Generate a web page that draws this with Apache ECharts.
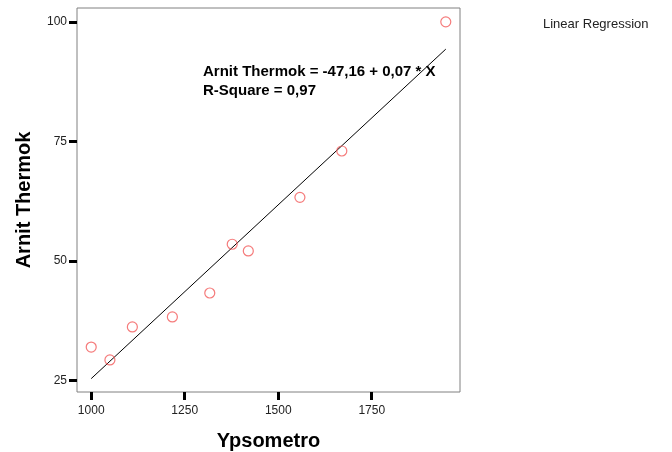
<!DOCTYPE html>
<html><head><meta charset="utf-8">
<script src="https://cdn.jsdelivr.net/npm/echarts@6/dist/echarts.min.js"></script>
<style>html,body{margin:0;padding:0;background:#fff}#c{width:672px;height:452px}</style>
</head><body><div id="c"></div>
<script>
// Observed data
const ypsometro = [1000, 1050, 1110, 1217, 1317, 1377, 1420, 1558, 1670, 1948];
const arnitThermok = [32.0, 29.3, 36.2, 38.3, 43.3, 53.5, 52.1, 63.3, 73.0, 100.0];
// Fitted line endpoints
const fitX = [1000, 1948];
const fitY = [25.4, 94.3];
const xTicks = [1000, 1250, 1500, 1750];
const yTicks = [25, 50, 75, 100];
const equationText = ['Arnit Thermok = -47,16 + 0,07 * X', 'R-Square = 0,97'];
const legendText = 'Linear Regression';

const chart = echarts.init(document.getElementById('c'), null, {renderer: 'canvas'});
const tickStyle = {color: '#000', width: 3};
chart.setOption({
  animation: false,
  backgroundColor: '#fff',
  grid: {left: 77, right: 212, top: 8, bottom: 60, containLabel: false, outerBoundsMode: 'none',
         show: true, borderColor: '#808080', borderWidth: 1, backgroundColor: '#fff'},
  xAxis: {
    type: 'value', min: 962, max: 1986,
    name: 'Ypsometro', nameLocation: 'middle', nameGap: 39,
    nameTextStyle: {fontFamily: 'Liberation Sans, Arial', fontWeight: 'bold', fontSize: 20, color: '#000'},
    axisLine: {show: false},
    splitLine: {show: false},
    axisTick: {show: true, length: 8, lineStyle: tickStyle, customValues: xTicks},
    axisLabel: {customValues: xTicks, formatter: v => String(v), fontFamily: 'Liberation Sans, Arial', fontSize: 12, color: '#222', margin: 13}
  },
  yAxis: {
    type: 'value', min: 22.6, max: 102.9,
    name: 'Arnit Thermok', nameLocation: 'middle', nameGap: 43, nameRotate: 90,
    nameTextStyle: {fontFamily: 'Liberation Sans, Arial', fontWeight: 'bold', fontSize: 20, color: '#000'},
    axisLine: {show: false},
    splitLine: {show: false},
    axisTick: {show: true, length: 8, lineStyle: tickStyle, customValues: yTicks},
    axisLabel: {customValues: yTicks, formatter: v => String(v), fontFamily: 'Liberation Sans, Arial', fontSize: 12, color: '#222', margin: 10}
  },
  series: [
    {
      type: 'line', data: fitX.map((x, i) => [x, fitY[i]]),
      symbol: 'none', lineStyle: {color: '#000', width: 1}, silent: true, z: 2
    },
    {
      type: 'scatter', data: ypsometro.map((x, i) => [x, arnitThermok[i]]),
      symbol: 'circle', symbolSize: 10,
      itemStyle: {color: 'rgba(0,0,0,0)', borderColor: '#f25a5a', borderWidth: 1.2}, z: 3
    }
  ],
  graphic: [
    {type: 'text', left: 203, top: 62, style: {text: equationText.join('\n'), font: 'bold 15px "Liberation Sans", Arial', fill: '#000', lineHeight: 19}},
    {type: 'text', left: 543, top: 18, style: {text: legendText, font: '13px "Liberation Sans", Arial', fill: '#222'}}
  ]
});
</script></body></html>
